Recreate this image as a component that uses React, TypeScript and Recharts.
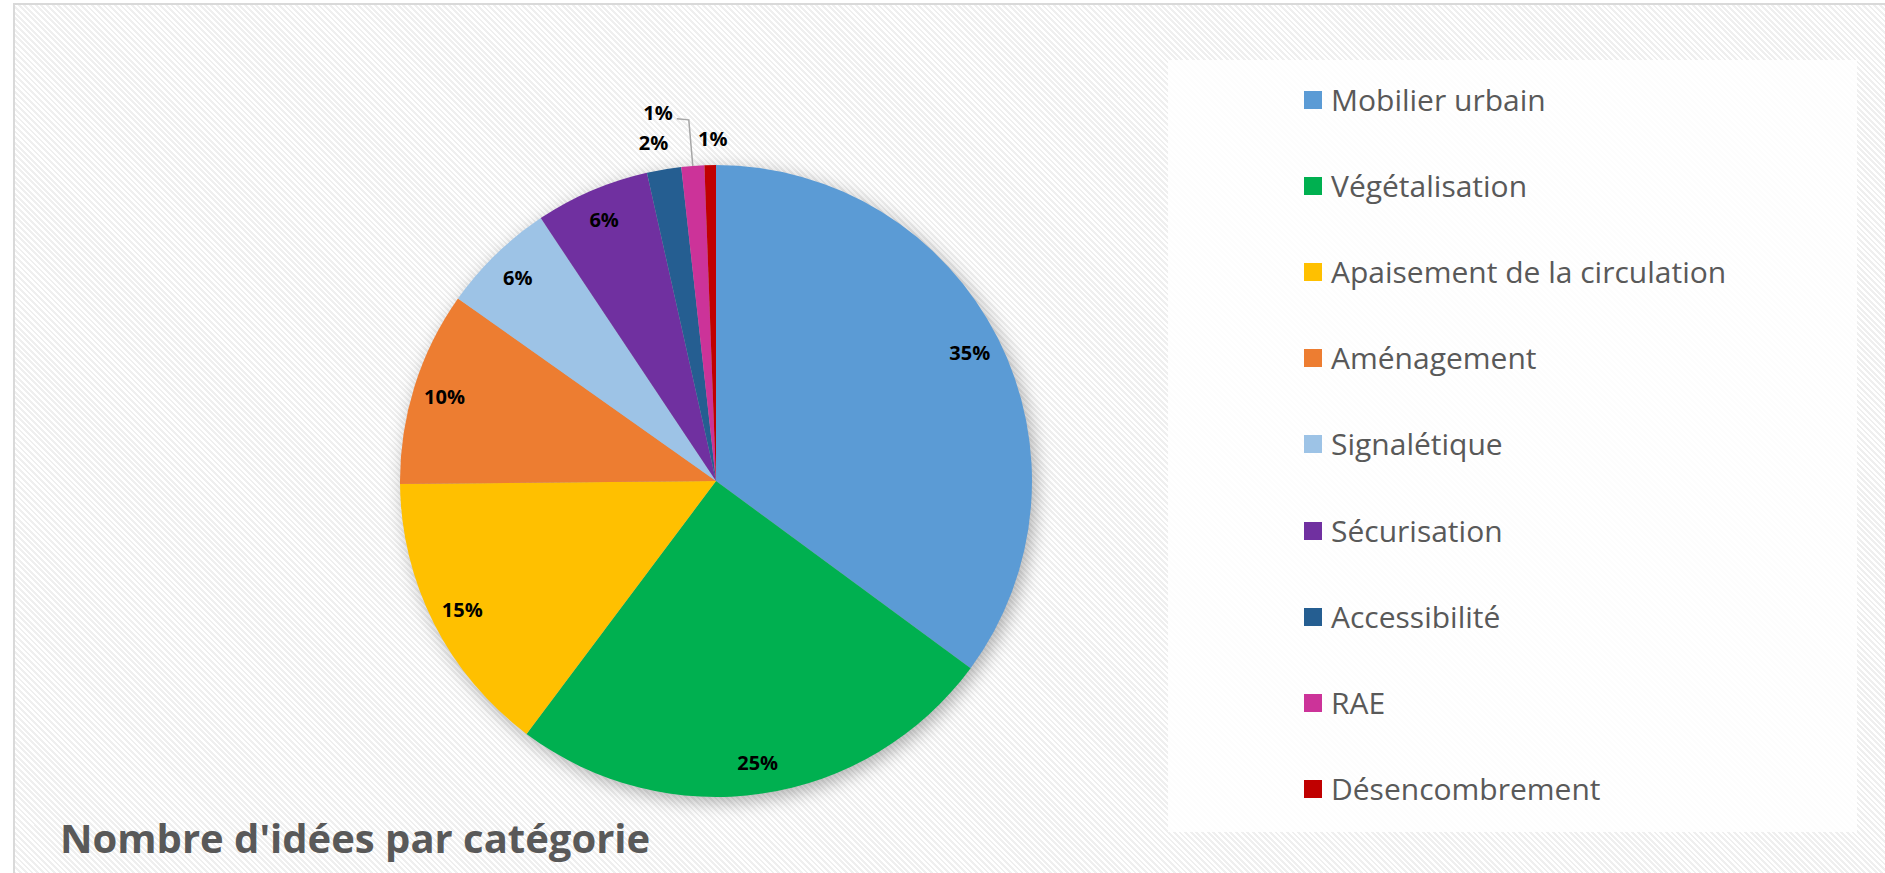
import { PieChart, Pie, Cell, Legend } from 'recharts';

const categories = [
  'Mobilier urbain',
  'Végétalisation',
  'Apaisement de la circulation',
  'Aménagement',
  'Signalétique',
  'Sécurisation',
  'Accessibilité',
  'RAE',
  'Désencombrement',
];
const counts = [60, 43, 25, 17, 10, 10, 3, 2, 1];
const colors = ['#5B9BD5', '#00B050', '#FFC000', '#ED7D31', '#9DC3E6', '#7030A0', '#255E91', '#CC3399', '#C00000'];
const title = "Nombre d'idées par catégorie";

const data = categories.map((name, i) => ({ name, value: counts[i] }));

const RAD = Math.PI / 180;
const FONT = '"Open Sans", sans-serif';

const renderLabel = (props: any) => {
  const { cx, cy, midAngle, outerRadius, percent, index } = props;
  const txt = `${Math.round(percent * 100)}%`;
  const cos = Math.cos(-midAngle * RAD);
  const sin = Math.sin(-midAngle * RAD);
  if (percent >= 0.05) {
    const r = outerRadius * 0.9;
    return (
      <text x={cx + r * cos} y={cy + r * sin} textAnchor="middle" dominantBaseline="central"
        fontFamily={FONT} fontWeight={700} fontSize={20} fill="#000">{txt}</text>
    );
  }
  if (index === 7) {
    // label pushed out with a leader line to avoid overlap
    const x0 = cx + outerRadius * cos;
    const y0 = cy + outerRadius * sin;
    const x1 = x0 - 4;
    const y1 = y0 - 46;
    const x2 = x1 - 12;
    return (
      <g>
        <polyline points={`${x0},${y0} ${x1},${y1} ${x2},${y1 - 1}`} fill="none" stroke="#a6a6a6" strokeWidth={1.5} />
        <text x={x2 - 4} y={y1 - 7} textAnchor="end" dominantBaseline="central"
          fontFamily={FONT} fontWeight={700} fontSize={20} fill="#000">{txt}</text>
      </g>
    );
  }
  const r = outerRadius + 27;
  return (
    <text x={cx + r * cos + (index === 6 ? -6 : 3)} y={cy + r * sin} textAnchor="middle" dominantBaseline="central"
      fontFamily={FONT} fontWeight={700} fontSize={20} fill="#000">{txt}</text>
  );
};

const renderLegend = (props: any) => {
  const payload = [...(props.payload || [])].sort(
    (a: any, b: any) => categories.indexOf(a.value) - categories.indexOf(b.value)
  );
  return (
    <div style={{ marginTop: -3 }}>
      {payload.map((entry: any) => (
        <div key={entry.value} style={{ display: 'flex', alignItems: 'center', height: 86.1 }}>
          <span style={{ width: 18, height: 18, background: entry.color, marginLeft: 136, marginRight: 9, flex: 'none' }} />
          <span style={{ fontFamily: FONT, fontSize: 30, color: '#595959', lineHeight: 1 }}>{entry.value}</span>
        </div>
      ))}
    </div>
  );
};

export default function App() {
  return (
    <div style={{ position: 'relative', width: 1885, height: 873, overflow: 'hidden' }}>
      <style>{`body{margin:0;} .recharts-layer:has(> .recharts-pie-sector){filter:drop-shadow(4px 5px 9px rgba(0,0,0,0.3));}`}</style>
      <div style={{
        position: 'absolute', left: 13, top: 3, width: 1885, height: 900,
        borderLeft: '2px solid #d9d9d9', borderTop: '2px solid #d9d9d9',
        background: 'repeating-linear-gradient(45deg, #ffffff 0px, #ffffff 2px, #efefef 2px, #efefef 4px)',
      }} />
      <div style={{ position: 'absolute', left: 0, top: 0 }}>
        <PieChart width={1885} height={873} margin={{ top: 0, right: 0, bottom: 0, left: 0 }}>
          <Pie
            data={data}
            dataKey="value"
            nameKey="name"
            cx={716}
            cy={481}
            outerRadius={316}
            startAngle={90}
            endAngle={-270}
            stroke="none"
            label={renderLabel}
            labelLine={false}
            isAnimationActive={false}
          >
            {data.map((d, i) => <Cell key={d.name} fill={colors[i]} />)}
          </Pie>
          <Legend
            content={renderLegend}
            layout="vertical"
            verticalAlign="top"
            align="right"
            wrapperStyle={{ position: 'absolute', left: 1168, top: 60, width: 689, height: 772, background: 'rgba(255,255,255,0.85)' }}
          />
        </PieChart>
      </div>
      <div style={{
        position: 'absolute', left: 60, top: 818, fontFamily: FONT, fontWeight: 700,
        fontSize: 40, color: '#595959', whiteSpace: 'nowrap', lineHeight: 1,
      }}>{title}</div>
    </div>
  );
}
